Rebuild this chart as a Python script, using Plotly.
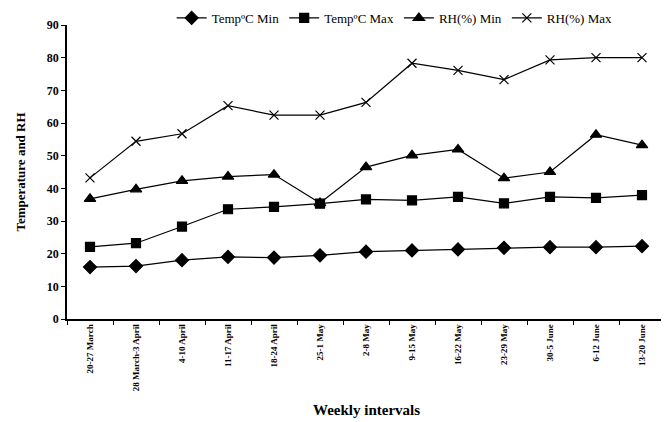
import plotly.graph_objects as go

categories = ["20-27 March", "28 March-3 April", "4-10 April", "11-17 April", "18-24 April",
              "25-1 May", "2-8 May", "9-15 May", "16-22 May", "23-29 May",
              "30-5 June", "6-12 June", "13-20 June"]
temp_min = [15.9, 16.2, 18.0, 19.0, 18.8, 19.5, 20.6, 21.0, 21.3, 21.8, 22.0, 22.0, 22.3]
temp_max = [22.1, 23.2, 28.3, 33.6, 34.3, 35.3, 36.6, 36.3, 37.4, 35.4, 37.4, 37.1, 37.9]
rh_min = [36.8, 39.7, 42.3, 43.6, 44.2, 35.5, 46.5, 50.1, 51.9, 43.1, 45.0, 56.4, 53.2]
rh_max = [43.2, 54.4, 56.7, 65.3, 62.4, 62.4, 66.3, 78.3, 76.1, 73.3, 79.3, 80.0, 80.0]
series_names = ["Temp\u00baC Min", "Temp\u00baC Max", "RH(%) Min", "RH(%) Max"]
y_ticks = list(range(0, 91, 10))

font = "Liberation Serif"
fig = go.Figure()
specs = [
    (temp_min, "diamond", 10),
    (temp_max, "square", 9),
    (rh_min, "triangle-up", 10),
    (rh_max, "x-thin-open", 9),
]
for (vals, sym, sz), name in zip(specs, series_names):
    fig.add_trace(go.Scatter(
        x=categories, y=vals, name=name, mode="lines+markers",
        line=dict(color="black", width=1.2),
        marker=dict(symbol=sym, size=sz, color="black",
                    line=dict(color="black", width=1.2)),
    ))

# page body has an 8px margin, so figure coords are offset by 8px
L, T, R, B = 59, 17, 12, 111
plot_h = 422 - T - B

fig.update_layout(
    width=669, height=422,
    margin=dict(l=L, r=R, t=T, b=B, autoexpand=False),
    paper_bgcolor="white", plot_bgcolor="white",
    font=dict(family=font, color="black"),
    showlegend=True,
    legend=dict(orientation="h", x=0.175, y=1 + 7 / plot_h, xanchor="left", yanchor="middle",
                font=dict(size=13, family=font), bgcolor="rgba(0,0,0,0)",
                itemwidth=30, tracegroupgap=0),
    annotations=[
        dict(text="<b>Weekly intervals</b>", x=0.5, y=-(402 - (422 - B)) / plot_h,
             xref="paper", yref="paper", yanchor="middle",
             showarrow=False, font=dict(size=15, family=font)),
    ],
)

fig.update_xaxes(
    type="category", range=[-0.5, 12.5],
    showline=True, linecolor="black", linewidth=1.5,
    ticks="outside", tickson="boundaries", ticklen=4, tickcolor="black",
    tickangle=-90, tickfont=dict(size=9, family=font),
    showgrid=False, zeroline=False, automargin=False,
    tickvals=categories, ticktext=[f"<b>{c}</b>" for c in categories],
)
fig.update_yaxes(
    range=[0, 90],
    showline=True, linecolor="black", linewidth=1.5,
    ticks="outside", ticklen=4, tickcolor="black",
    tickfont=dict(size=12, family=font),
    showgrid=False, zeroline=False, automargin=False,
    tickvals=y_ticks, ticktext=[f"<b>{v}</b>" for v in y_ticks],
    title=dict(text="<b>Temperature and RH</b>", font=dict(size=13, family=font), standoff=18),
)

fig.write_html("out.html")
